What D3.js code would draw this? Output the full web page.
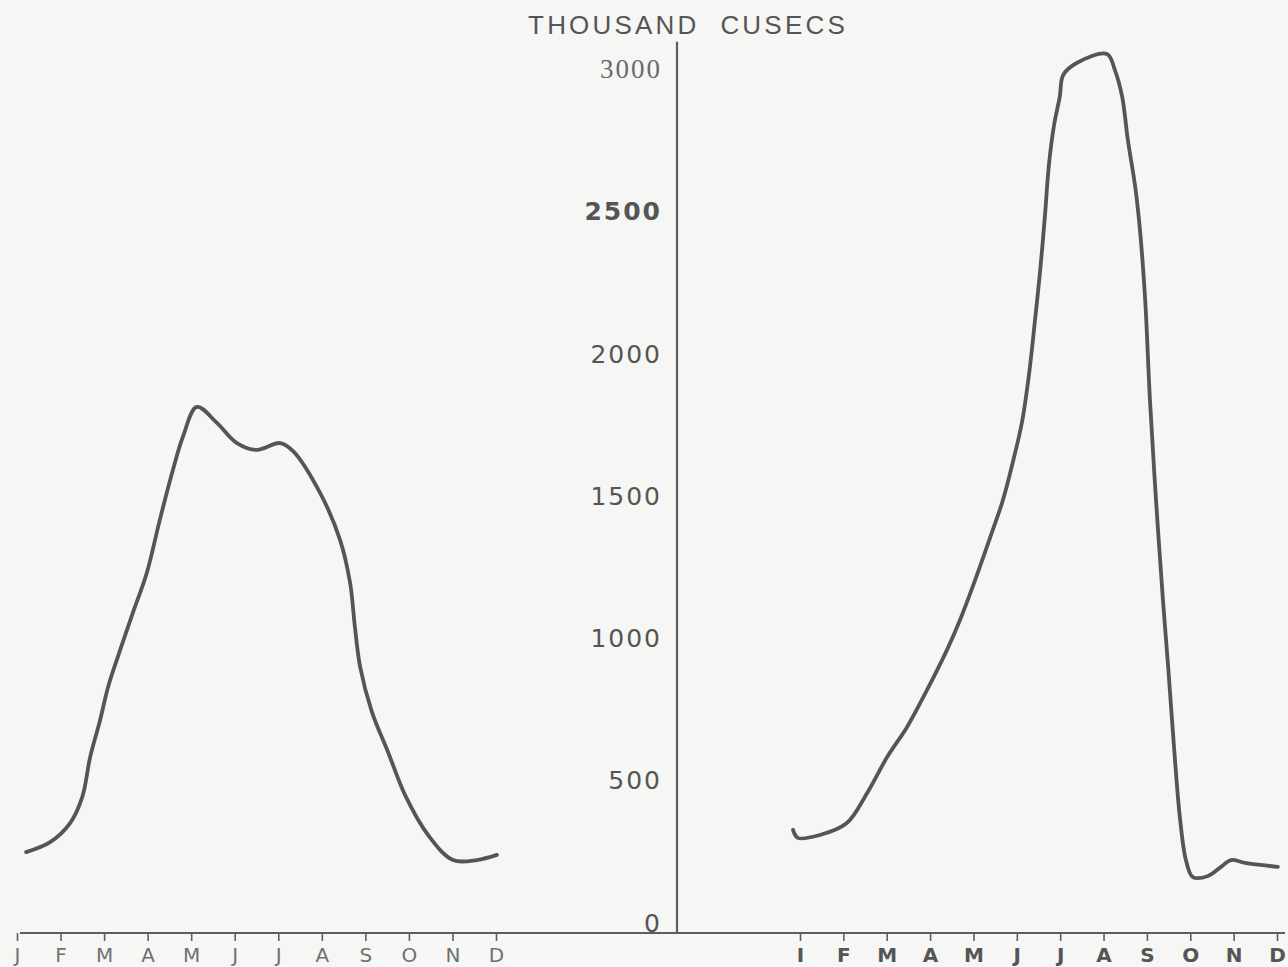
<!DOCTYPE html>
<html>
<head>
<meta charset="utf-8">
<script src="https://cdn.jsdelivr.net/npm/d3@7/dist/d3.min.js"></script>
<style>
  body { margin: 0; background: #f6f6f5; }
  svg { display: block; }
</style>
</head>
<body>
<svg id="chart" width="1288" height="967"></svg>
<script>
// month letters under each panel
const leftMonths = ["J", "F", "M", "A", "M", "J", "J", "A", "S", "O", "N", "D"];
const rightMonths = ["I", "F", "M", "A", "M", "J", "J", "A", "S", "O", "N", "D"];
const yTicks = [0, 500, 1000, 1500, 2000, 2500, 3000];

// left curve: month position (0 = Jan) and flow in thousand cusecs
const leftMonth = [0.21, 0.76, 1.22, 1.5, 1.68, 1.9, 2.1, 2.37, 2.66, 2.98, 3.28, 3.58, 3.81, 4.13,
  4.59, 5.05, 5.51, 6.04, 6.34, 6.96, 7.42, 7.65, 7.76, 7.88, 8.15, 8.52, 8.91, 9.44, 10.01, 10.56, 11.02];
const leftFlow = [281, 316, 383, 475, 615, 740, 866, 992, 1122, 1262, 1449, 1624, 1741, 1846,
  1790, 1719, 1695, 1719, 1691, 1544, 1378, 1227, 1072, 932, 774, 633, 482, 341, 253, 253, 271];

// right curve
const rightMonth = [-0.16, -0.05, 0.46, 1.08, 1.55, 2.01, 2.47, 2.93, 3.39, 3.69, 4.04, 4.38, 4.68, 4.91,
  5.12, 5.28, 5.42, 5.54, 5.65, 5.74, 5.86, 5.99, 6.07, 6.39, 7.08, 7.26, 7.43, 7.56, 7.73, 7.84, 7.96,
  8.07, 8.21, 8.37, 8.49, 8.63, 8.76, 8.9, 9.06, 9.41, 9.71, 9.94, 10.26, 11.02];
const rightFlow = [359, 331, 341, 383, 489, 615, 721, 851, 992, 1097, 1238, 1385, 1519, 1653,
  1793, 1959, 2152, 2328, 2521, 2697, 2838, 2936, 3013, 3056, 3087, 3031, 2936, 2785, 2620, 2468, 2222,
  1871, 1519, 1167, 932, 640, 404, 253, 193, 197, 229, 253, 243, 229];

let svg = d3.select("#chart");
let inkColor = "#555";
let axisColor = "#5e5e5e";

let axisX = 677;

let y = d3.scaleLinear()
  .domain([0, 3000])
  .range([932, 78.7]);

let xLeft = d3.scaleLinear()
  .domain([0, 11])
  .range([17, 496]);

let xRight = d3.scaleLinear()
  .domain([0, 11])
  .range([800, 1277]);

// title
svg.append("text")
  .attr("x", 688)
  .attr("y", 34)
  .attr("text-anchor", "middle")
  .style("font-family", "Liberation Sans, Arial, sans-serif")
  .style("font-size", "26px")
  .style("letter-spacing", "3.2px")
  .style("fill", "#555")
  .style("white-space", "pre")
  .text("THOUSAND  CUSECS");

// baseline
svg.append("line")
  .attr("x1", 20)
  .attr("x2", 1285)
  .attr("y1", y(0) + 1)
  .attr("y2", y(0) + 1)
  .style("stroke", axisColor)
  .style("stroke-width", 2);

// vertical axis line
svg.append("line")
  .attr("x1", axisX)
  .attr("x2", axisX)
  .attr("y1", y(3130))
  .attr("y2", y(0) + 2)
  .style("stroke", axisColor)
  .style("stroke-width", 2.2);

// y tick labels (no ticks, text sits on its level)
let yAxis = svg.append("g")
  .attr("transform", "translate(" + axisX + ",0)")
  .call(d3.axisLeft(y).tickValues(yTicks).tickFormat(d3.format("d")).tickSize(0).tickPadding(15));
yAxis.select(".domain").remove();
yAxis.selectAll("text")
  .attr("dy", "-0.04em")
  .style("font-family", d => d == 3000 ? "Liberation Serif, serif" : "DejaVu Sans, sans-serif")
  .style("font-size", d => d == 3000 ? "27px" : "25px")
  .style("letter-spacing", "2px")
  .style("font-weight", d => d == 2500 ? "bold" : "normal")
  .style("fill", d => d == 3000 ? "#6a6a6a" : "#555");

// month axes
function monthAxis(scale, labels, weight, color) {
  let g = svg.append("g")
    .attr("transform", "translate(0," + (y(0) + 1) + ")")
    .call(d3.axisBottom(scale)
      .tickValues(d3.range(12))
      .tickFormat(i => labels[i])
      .tickSize(8)
      .tickPadding(7));
  g.select(".domain").remove();
  g.selectAll("line")
    .style("stroke", axisColor)
    .style("stroke-width", 1.6);
  g.selectAll("text")
    .style("font-family", "DejaVu Sans, sans-serif")
    .style("font-size", "20px")
    .style("font-weight", weight)
    .style("fill", color);
  return g;
}
monthAxis(xLeft, leftMonths, "normal", "#707070");
monthAxis(xRight, rightMonths, "bold", "#555");

// curves
let leftLine = d3.line()
  .x((d, i) => xLeft(leftMonth[i]))
  .y(d => y(d))
  .curve(d3.curveCatmullRom.alpha(0.5));

let rightLine = d3.line()
  .x((d, i) => xRight(rightMonth[i]))
  .y(d => y(d))
  .curve(d3.curveCatmullRom.alpha(0.5));

svg.append("path")
  .datum(leftFlow)
  .attr("d", leftLine)
  .style("fill", "none")
  .style("stroke", inkColor)
  .style("stroke-width", 3.8)
  .style("stroke-linecap", "round")
  .style("stroke-linejoin", "round");

svg.append("path")
  .datum(rightFlow)
  .attr("d", rightLine)
  .style("fill", "none")
  .style("stroke", inkColor)
  .style("stroke-width", 3.8)
  .style("stroke-linecap", "round")
  .style("stroke-linejoin", "round");
</script>
</body>
</html>
